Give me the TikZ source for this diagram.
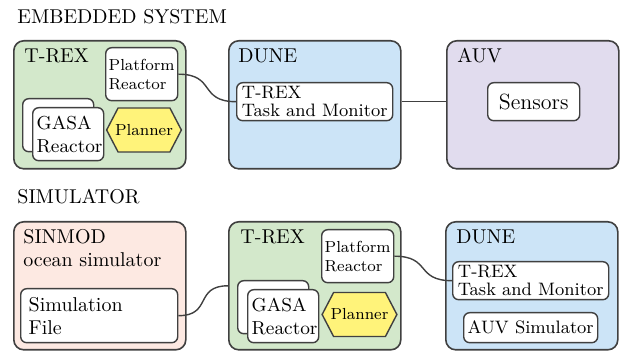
\documentclass[tikz,border=0pt]{standalone}
\usetikzlibrary{shapes.symbols}
\definecolor{edgegray}{RGB}{64,64,64}
\definecolor{trexgreen}{RGB}{211,232,203}
\definecolor{duneblue}{RGB}{204,228,247}
\definecolor{auvlilac}{RGB}{225,220,238}
\definecolor{sinmodpink}{RGB}{253,233,226}
\definecolor{planyellow}{RGB}{255,243,122}

\begin{document}
\begin{tikzpicture}[x=0.5pt,y=-0.5pt,
    system/.style={draw=edgegray,line width=0.8pt,rounded corners=5pt,minimum width=86pt,minimum height=64pt,anchor=north west,inner sep=0pt},
    module/.style={draw=edgegray,line width=0.7pt,fill=white,rounded corners=3pt,anchor=north west,inner xsep=2pt,inner ysep=1pt,align=left},
    planner/.style={draw=edgegray,line width=0.7pt,fill=planyellow,shape=signal,signal to=east and west,signal pointer angle=125,minimum height=22pt,inner xsep=-1.5pt,inner ysep=0.5pt,font=\fontsize{8}{9.5}\selectfont},
    title/.style={anchor=base west,inner sep=0pt,font=\fontsize{10}{12}\selectfont},
    link/.style={draw=edgegray,line width=0.7pt}]
    \useasboundingbox (0,0) rectangle (622,352);

    % embedded system
    \begin{scope}
     \node[title] (embtitle) at (17,24) {EMBEDDED SYSTEM};
     \node[system,fill=trexgreen] (trexA) at (13,40) {};
     \node[system,fill=duneblue] (duneA) at (228,40) {};
     \node[system,fill=auvlilac] (auv) at (446,40) {};
     \node[title] (trexAlbl) at (24,63) {T-REX};
     \node[title] (duneAlbl) at (238,63) {DUNE};
     \node[title] (auvlbl) at (457,63) {AUV};

     \node[module,text width=33pt,inner xsep=1.5pt,minimum height=26.5pt,font=\fontsize{8}{9.5}\selectfont] (platA) at (105,47) {Platform\\Reactor};
     \node[module,minimum width=35.5pt,minimum height=26.5pt] (gasaAback) at (22,98) {};
     \node[module,text width=31.5pt,inner xsep=2pt,minimum height=26.5pt,font=\fontsize{9.4}{11.5}\selectfont] (gasaA) at (32,107) {GASA\\Reactor};
     \node[planner] (plannerA) at (144,130) {Planner};
     \node[module,minimum width=78pt,minimum height=19pt,font=\fontsize{9}{9}\selectfont] (taskA) at (236,82) {T-REX\\Task and Monitor};
     \node[module,minimum width=46pt,minimum height=19pt,font=\fontsize{11}{13}\selectfont] (sensors) at (487,82) {Sensors};

     \draw[link] (platA.east) to[out=0,in=180,looseness=1.5] (taskA.west);
     \draw[link] (taskA.east -| duneA.east) -- (taskA.east -| auv.west);
    \end{scope}

    % simulator
    \begin{scope}
     \node[title] (simtitle) at (17,204) {SIMULATOR};
     \node[system,fill=sinmodpink] (sinmod) at (13,221) {};
     \node[system,fill=trexgreen] (trexB) at (228,221) {};
     \node[system,fill=duneblue] (duneB) at (445,221) {};
     \node[title,anchor=north west,align=left,font=\fontsize{10}{11.5}\selectfont] (sinmodlbl) at (23,229.5) {SINMOD\\ocean simulator};
     \node[title] (trexBlbl) at (240,244) {T-REX};
     \node[title] (duneBlbl) at (456,244) {DUNE};

     \node[module,text width=70.5pt,inner xsep=4pt,minimum height=27pt,font=\fontsize{10}{11.5}\selectfont] (simfile) at (20,288) {Simulation\\File};
     \node[module,minimum width=35.5pt,minimum height=26.5pt] (gasaBback) at (237,280) {};
     \node[module,text width=31.5pt,inner xsep=2pt,minimum height=26.5pt,font=\fontsize{9.4}{11.5}\selectfont] (gasaB) at (247,289) {GASA\\Reactor};
     \node[module,text width=33pt,inner xsep=1.5pt,minimum height=26.5pt,font=\fontsize{8}{9.5}\selectfont] (platB) at (321,229) {Platform\\Reactor};
     \node[planner] (plannerB) at (359.5,314.5) {Planner};
     \node[module,minimum width=78pt,minimum height=19pt,font=\fontsize{9}{9}\selectfont] (taskB) at (452,261) {T-REX\\Task and Monitor};
     \node[module,minimum width=67pt,minimum height=15pt,font=\fontsize{9}{11}\selectfont] (auvsim) at (463,312) {AUV Simulator};

     \draw[link] (simfile.east) to[out=0,in=180,looseness=1.5] (trexB.west);
     \draw[link] (platB.east) to[out=0,in=180,looseness=1.5] (taskB.west);
    \end{scope}
\end{tikzpicture}
\end{document}
